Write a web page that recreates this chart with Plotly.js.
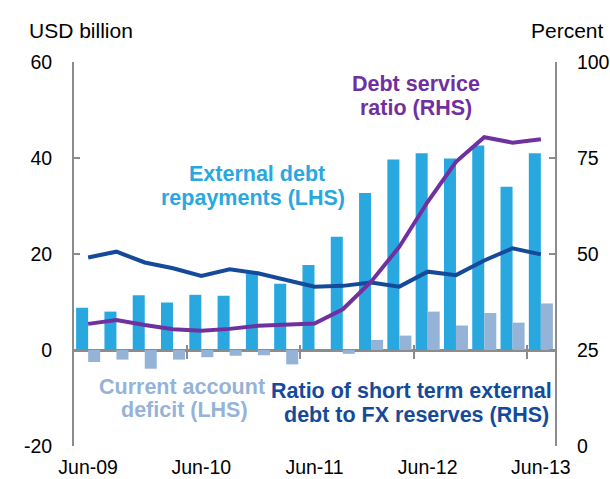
<!DOCTYPE html>
<html>
<head>
<meta charset="utf-8">
<script src="https://cdn.plot.ly/plotly-3.0.1.min.js"></script>
<style>html,body{margin:0;padding:0;background:#fff;}#chart{width:610px;height:479px;}</style>
</head>
<body>
<div id="chart"></div>
<script>
const quarters = ["Jun-09","Sep-09","Dec-09","Mar-10","Jun-10","Sep-10","Dec-10","Mar-11","Jun-11","Sep-11","Dec-11","Mar-12","Jun-12","Sep-12","Dec-12","Mar-13","Jun-13"];
const tickLabels = ["Jun-09","Jun-10","Jun-11","Jun-12","Jun-13"];
const leftTicks = [-20, 0, 20, 40, 60];
const leftTickText = ["-20", "0", "20", "40", "60"];
const extDebtRepay = [8.8, 8.0, 11.4, 9.9, 11.5, 11.3, 16.0, 13.8, 17.7, 23.6, 32.7, 39.7, 41.0, 39.9, 42.6, 34.0, 41.0];
const caDeficit = [-2.5, -2.0, -3.9, -2.0, -1.5, -1.2, -1.1, -3.0, 0, -0.8, 2.1, 3.0, 8.0, 5.1, 7.7, 5.7, 9.7];
const debtServiceRatio = [31.8, 32.8, 31.5, 30.4, 30.0, 30.5, 31.3, 31.5, 31.9, 35.6, 42.8, 51.9, 63.6, 74.0, 80.4, 79.0, 79.9];
const shortTermRatio = [49.1, 50.6, 47.8, 46.3, 44.3, 46.0, 45.0, 43.2, 41.5, 41.7, 42.6, 41.5, 45.4, 44.5, 48.3, 51.5, 49.9];

const font = "Liberation Sans, Arial, sans-serif";
const axisGrey = "#8c8c8c";
const tickSize = 19.5;
const labelSize = 21.5;

const traces = [
  {type:"bar", x:quarters, y:extDebtRepay, marker:{color:"#29a8e0"}, name:"External debt repayments (LHS)", xaxis:"x", yaxis:"y"},
  {type:"bar", x:quarters, y:caDeficit, marker:{color:"#95b3d7"}, name:"Current account deficit (LHS)", xaxis:"x", yaxis:"y"},
  {type:"scatter", mode:"lines", x:quarters, y:shortTermRatio, line:{color:"#154a9a", width:4}, name:"Ratio of short term external debt to FX reserves (RHS)", xaxis:"x", yaxis:"y2"},
  {type:"scatter", mode:"lines", x:quarters, y:debtServiceRatio, line:{color:"#7030a0", width:4}, name:"Debt service ratio (RHS)", xaxis:"x", yaxis:"y2"},
  {type:"scatter", x:[], y:[], xaxis:"x2", yaxis:"y", hoverinfo:"skip", showlegend:false},
  {type:"scatter", x:[], y:[], xaxis:"x3", yaxis:"y", hoverinfo:"skip", showlegend:false}
];

function px2x(p){ return (p-74)/481; }
function px2y(p){ return (446-p)/384; }
function label(text, cx, cy, color, bold, size, anchor){
  return {xref:"paper", yref:"paper", x:px2x(cx), y:px2y(cy), xanchor:anchor||"center", yanchor:"middle",
    text: bold ? "<b>"+text+"</b>" : text, showarrow:false, font:{family:font, size:size, color:color}};
}

const layout = {
  width:610, height:479,
  margin:{l:74, r:55, t:62, b:33},
  paper_bgcolor:"#fff", plot_bgcolor:"#fff",
  showlegend:false,
  barmode:"group", bargap:0.15, bargroupgap:0,
  font:{family:font, size:tickSize, color:"#000"},
  xaxis:{type:"category", categoryorder:"array", categoryarray:quarters, range:[-0.5,16.5],
    tickmode:"array", tickvals:tickLabels, ticktext:tickLabels, ticks:"", showline:false, showgrid:false, zeroline:false,
    ticklabelstandoff:7, tickfont:{family:font, size:tickSize, color:"#000"}},
  xaxis2:{overlaying:"x", anchor:"free", position:0.25, range:[-0.5,16.5], tickmode:"array", tickvals:[3.5,7.5,11.5,15.5],
    showticklabels:false, ticks:"outside", ticklen:8, tickwidth:2, tickcolor:axisGrey, showline:false, showgrid:false, zeroline:false},
  xaxis3:{overlaying:"x", anchor:"free", position:0.25, range:[-0.5,16.5], tickmode:"array", tickvals:[3.5,7.5,11.5,15.5],
    showticklabels:false, ticks:"inside", ticklen:5, tickwidth:2, tickcolor:axisGrey, showline:false, showgrid:false, zeroline:false},
  yaxis:{range:[-20,60], tickmode:"array", tickvals:leftTicks, ticktext:leftTickText, showgrid:false, zeroline:true, zerolinecolor:axisGrey, zerolinewidth:3,
    showline:true, linecolor:axisGrey, linewidth:2, ticks:"inside", ticklen:6, tickwidth:2, tickcolor:axisGrey,
    tickfont:{family:font, size:tickSize, color:"#000"}, ticklabelstandoff:16},
  yaxis2:{overlaying:"y", side:"right", range:[0,100], tickmode:"linear", tick0:0, dtick:25, showgrid:false, zeroline:false,
    showline:true, linecolor:axisGrey, linewidth:2, ticks:"inside", ticklen:6, tickwidth:2, tickcolor:axisGrey,
    tickfont:{family:font, size:tickSize, color:"#000"}, ticklabelstandoff:16},
  annotations:[
    label("USD billion", 27, 30, "#000", false, 21, "left"),
    label("Percent", 606, 30, "#000", false, 21, "right"),
    label("External debt", 257, 174, "#29a8e0", true, labelSize),
    label("repayments (LHS)", 253, 198, "#29a8e0", true, labelSize),
    label("Debt service", 416, 84, "#7030a0", true, labelSize),
    label("ratio (RHS)", 416, 108, "#7030a0", true, labelSize),
    label("Current account", 182, 387, "#95b3d7", true, labelSize),
    label("deficit (LHS)", 184, 410, "#95b3d7", true, labelSize),
    label("Ratio of short term external", 411, 391, "#154a9a", true, labelSize),
    label("debt to FX reserves (RHS)", 416, 415, "#154a9a", true, labelSize)
  ]
};

Plotly.newPlot("chart", traces, layout, {displayModeBar:false, staticPlot:true});
</script>
</body>
</html>
